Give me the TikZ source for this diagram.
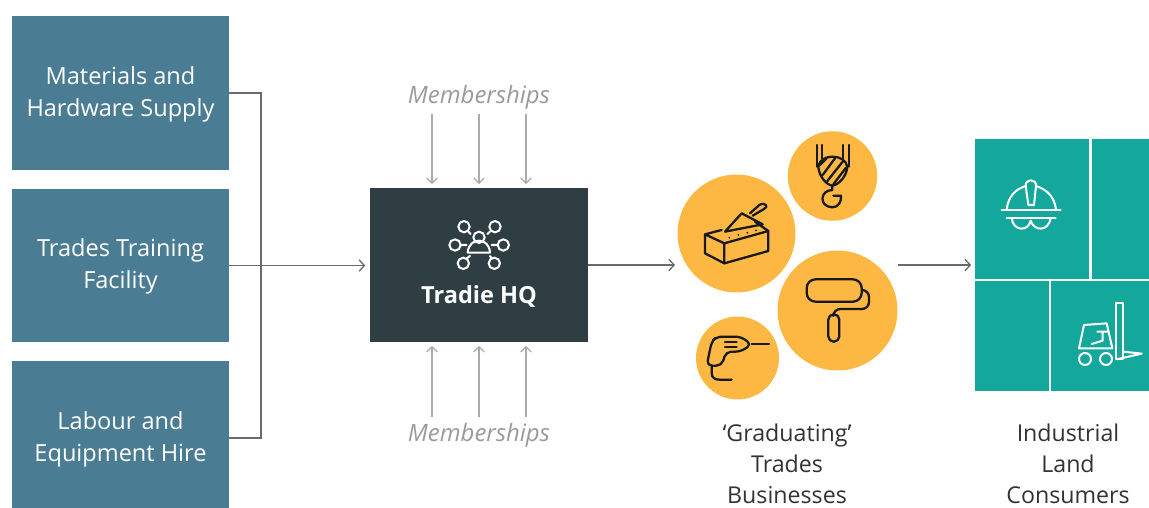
\documentclass[tikz,border=0pt]{standalone}
\usepackage{fontspec}
\setmainfont{Open Sans}
\usetikzlibrary{arrows.meta}
\definecolor{slateblue}{HTML}{4A7C94}
\definecolor{hubdark}{HTML}{2F3E42}
\definecolor{tradeamber}{HTML}{FDB844}
\definecolor{landteal}{HTML}{14A79B}
\definecolor{linegrey}{HTML}{6A6A6A}
\definecolor{softgrey}{HTML}{9A9A9A}
\definecolor{memgrey}{HTML}{ABABAB}
\definecolor{labelgrey}{HTML}{333333}

\begin{document}
\begin{tikzpicture}
  [x=0.02cm,y=-0.02cm,
   label/.style={align=center,inner sep=0pt,font=\fontsize{13.4}{18.2}\selectfont},
   outlabel/.style={align=center,inner sep=0pt,text=labelgrey,font=\fontsize{13.2}{17.6}\selectfont},
   supply/.style={fill=slateblue,minimum width=4.34cm,minimum height=3.08cm,inner sep=0pt},
   hubbox/.style={fill=hubdark,minimum width=4.36cm,minimum height=3.08cm,inner sep=0pt},
   trade/.style={circle,fill=tradeamber,inner sep=0pt},
   panel/.style={fill=landteal,inner sep=0pt},
   link/.style={draw=linegrey,line width=0.75pt},
   linkarrow/.style={link,arrows = {-{Straight Barb[length=3pt,width=6.5pt]}}},
   member/.style={draw=memgrey,line width=0.75pt,arrows = {-{Straight Barb[length=3pt,width=6pt]}}},
   icon/.style={draw=black!90,line width=1.3pt,line join=round,line cap=round},
   whiteicon/.style={draw=white,line width=1.15pt,line join=round,line cap=round}]
  \useasboundingbox (0,0) rectangle (1149,507);
  \clip (0,0) rectangle (1149,507);

  \node[supply] (box1) at (120.5,93) {};
  \node[supply] (box2) at (120.5,265.5) {};
  \node[supply] (box3) at (120.5,438) {};
  \node[label,text=white] (box1name) at (120.5,94) {Materials and\\Hardware Supply};
  \node[label,text=white] (box2name) at (120.5,266.5) {Trades Training\\Facility};
  \node[label,text=white] (box3name) at (120.5,439) {Labour and\\Equipment Hire};
  \node[hubbox] (hub) at (479,265) {};
  \node[text=white,inner sep=0pt,font=\fontsize{13.4}{15}\selectfont\bfseries] (hubname) at (479,297) {Tradie HQ};

  \node[label,text=softgrey,font=\fontsize{13.6}{15}\selectfont\itshape] (memtop) at (479,97) {Memberships};
  \node[label,text=softgrey,font=\fontsize{13.6}{15}\selectfont\itshape] (membottom) at (479,435) {Memberships};

  \node[trade,minimum size=2.36cm] (trowel) at (736.5,233.5) {};
  \node[trade,minimum size=1.79cm] (hook) at (832.5,176) {};
  \node[trade,minimum size=2.40cm] (roller) at (837.5,310.5) {};
  \node[trade,minimum size=1.66cm] (drill) at (737.5,358) {};
  \node[outlabel] (grads) at (787,464) {‘Graduating’\\Trades\\Businesses};

  \node[panel,minimum width=2.28cm,minimum height=2.80cm] (land1) at (1032,209) {};
  \node[panel,minimum width=1.16cm,minimum height=2.80cm] (land2) at (1121,209) {};
  \node[panel,minimum width=1.48cm,minimum height=2.20cm] (land3) at (1012,336) {};
  \node[panel,minimum width=1.98cm,minimum height=2.20cm] (land4) at (1100.5,336) {};
  \node[outlabel] (consumers) at (1068,464) {Industrial\\Land\\Consumers};

  \coordinate (bracket) at (261,265);
  \coordinate (crewin) at (675,265);
  \coordinate (crewout) at (898,265);
  \draw[link] (box1.east) -| (bracket) |- (box3.east);
  \draw[linkarrow,shorten >=2.5pt] (box2.east) -- (box2.east -| hub.west);
  \draw[linkarrow] (hub.east) -- (crewin);
  \draw[linkarrow,shorten >=2pt] (crewout) -- (crewout -| land1.west);

  \foreach \x [count=\i] in {432,479,526} {
    \coordinate (mt\i) at (\x,114);
    \coordinate (mb\i) at (\x,417);
    \draw[member,shorten >=2pt] (mt\i) -- (mt\i |- hub.north);
    \draw[member,shorten >=2pt] (mb\i) -- (mb\i |- hub.south);
  }

  % hub icon
  \begin{scope}[shift={(370,180)},x=0.00667cm,y=-0.00667cm,whiteicon]
    \draw (327,172) circle (17);
    \draw (293,218) .. controls (296,170) and (358,170) .. (360,218) -- cycle;
    \foreach \cx/\cy in {282/140,375/140,255/195,400/195,280/250,373/250}
      \draw (\cx,\cy) circle (17);
    \draw (295,155) -- (302,162) (360,155) -- (352,162) (272,195) -- (290,195);
    \draw (365,195) -- (383,195) (290,235) -- (300,228) (360,228) -- (365,235);
  \end{scope}

  % trade icons
  \begin{scope}[shift={(670,125)},x=0.00667cm,y=-0.00667cm,icon]
    % brick and trowel
    \draw (155,315) -- (105,328) -- (105,385) -- (163,415) -- (295,378) -- (295,318) -- (163,355) -- (105,328);
    \draw (163,355) -- (163,415) (255,290) -- (295,318);
    \draw (165,320) -- (215,265) -- (278,298) -- cycle;
    \draw (240,265) -- (268,240) .. controls (285,230) and (298,245) .. (282,252) -- (248,272);
    \foreach \x/\y in {178/338,205/330,232/323,258/316} \fill[black!90] (\x,\y) circle (3);
    % crane hook
    \draw (440,60) -- (440,125) (457,60) -- (457,100) (520,60) -- (520,100) (537,60) -- (537,125);
    \draw (445,125) .. controls (450,85) and (525,85) .. (532,125) .. controls (530,155) and (505,180) .. (487,182) .. controls (470,180) and (447,155) .. (445,125) -- cycle;
    \draw (470,100) -- (448,122) (495,100) -- (458,150) (518,110) -- (472,168) (528,128) -- (490,178);
    \draw (487,182) -- (487,195) .. controls (450,195) and (445,245) .. (487,247) .. controls (505,247) and (515,230) .. (513,212) -- (490,212);
    % paint roller
    \draw[rounded corners=5pt] (410,463) rectangle (575,530);
    \draw[rounded corners=4pt] (575,495) -- (597,495) -- (597,552) -- (490,552) -- (490,568);
    \draw[rounded corners=3pt] (475,568) rectangle (508,650);
    % drill
    \draw[rounded corners=3pt] (110,722) -- (125,650) -- (140,635) -- (212,635) -- (245,658) -- (212,680) -- (168,680) -- (155,722) -- cycle;
    \draw (245,658) -- (297,658) (165,650) -- (200,650) (165,665) -- (200,665);
    \draw (125,725) -- (125,745) .. controls (125,758) and (135,764) .. (148,764) -- (185,764);
  \end{scope}

  % land icons
  \begin{scope}[shift={(960,130)},x=0.00667cm,y=-0.00667cm,whiteicon]
    % hard hat
    \draw (125,240) -- (302,240) (140,263) -- (287,263);
    \draw (140,238) .. controls (145,200) and (165,178) .. (197,168);
    \draw (228,168) .. controls (260,178) and (283,200) .. (288,238);
    \draw (205,225) -- (197,168) .. controls (195,145) and (230,145) .. (228,168) -- (222,225) -- cycle;
    \draw (155,265) .. controls (160,305) and (205,305) .. (212,272) .. controls (222,305) and (265,305) .. (272,265);
    % forklift
    \draw (468,518) rectangle (490,688);
    \draw (490,665) -- (545,671) -- (470,688);
    \draw (357,655) -- (372,585) -- (440,580) -- (457,655) -- cycle;
    \draw (412,605) -- (442,605) (428,605) -- (428,632) -- (395,642);
    \draw (375,687) circle (18) (438,687) circle (18);
  \end{scope}
\end{tikzpicture}
\end{document}
